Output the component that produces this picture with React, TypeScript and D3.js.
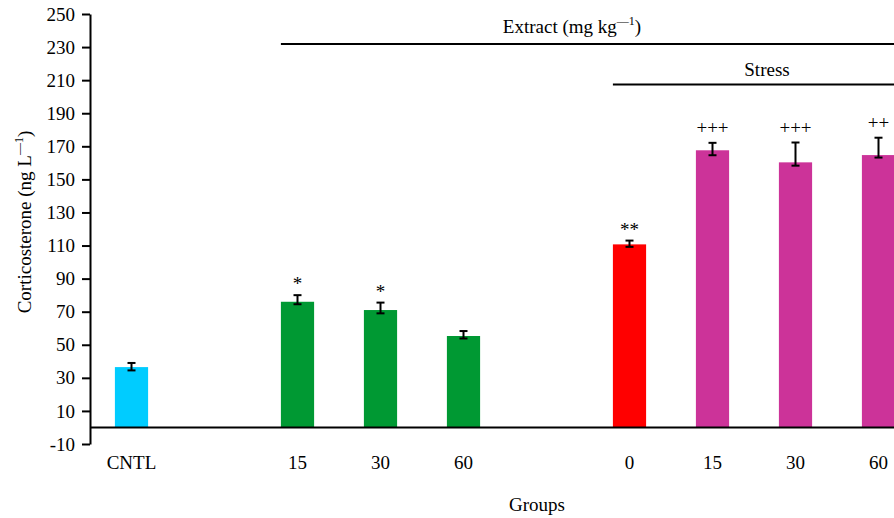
import * as d3 from "d3";
import { useRef, useEffect } from "react";

const slots = ["CNTL", "gap1", "E15", "E30", "E60", "gap2", "S0", "S15", "S30", "S60"];
const groups = ["CNTL", "E15", "E30", "E60", "S0", "S15", "S30", "S60"];
const groupLabels = ["CNTL", "15", "30", "60", "0", "15", "30", "60"];
const means = [36.5, 76, 71, 55.3, 110.7, 167.6, 160.3, 164.7];
const errUp = [2.5, 4, 4.5, 3, 2.3, 4.5, 12, 10.5];
const errDown = [2, 1.5, 2, 1.5, 1.5, 3, 2, 1.5];
const marks = ["", "*", "*", "", "**", "+++", "+++", "++"];
const colors = ["#00ccff", "#009933", "#009933", "#009933", "#ff0000", "#cc3399", "#cc3399", "#cc3399"];
const yTicks = d3.range(-10, 251, 20);

export default function App() {
    const width = 894;
    const height = 518;
    const marginLeft = 90;
    const gy = useRef<SVGGElement>(null);
    const x = d3.scaleBand(slots, [marginLeft, 920]).paddingInner(0.6).paddingOuter(0.3);
    const y = d3.scaleLinear([-10, 250], [444, 14]);
    const font = "Liberation Serif";
    const cx = (g: string) => (x(g) ?? 0) + x.bandwidth() / 2;

    useEffect(() => {
        if (gy.current) {
            const g = d3.select(gy.current);
            g.selectAll("*").remove();
            g.call(d3.axisLeft(y).tickValues(yTicks).tickFormat(d => String(d)).tickSize(8).tickSizeOuter(0).tickPadding(7));
            g.attr("font-family", null).attr("font-size", null);
            g.select(".domain").attr("stroke-width", 2);
            g.selectAll(".tick line").attr("stroke-width", 2);
            g.selectAll(".tick text").attr("font-size", 19).attr("fill", "#000");
        }
    }, [gy, y]);

    return (
        <div>
            <svg width={width} height={height} style={{ position: "absolute", left: 0, top: 0, fontFamily: font }}>
                {groups.map((g, i) => (
                    <rect key={g} x={x(g)} y={y(means[i])} width={x.bandwidth()}
                        height={y(0) - y(means[i])} fill={colors[i]} />
                ))}
                <line x1={marginLeft} x2={width} y1={y(0)} y2={y(0)} stroke="#000" strokeWidth={2} />
                <g stroke="#000" strokeWidth={2}>
                    {groups.map((g, i) => (
                        <g key={g}>
                            <line x1={cx(g)} x2={cx(g)} y1={y(means[i] + errUp[i])} y2={y(means[i] - errDown[i])} />
                            <line x1={cx(g) - 4} x2={cx(g) + 4} y1={y(means[i] + errUp[i])} y2={y(means[i] + errUp[i])} />
                            <line x1={cx(g) - 4} x2={cx(g) + 4} y1={y(means[i] - errDown[i])} y2={y(means[i] - errDown[i])} />
                        </g>
                    ))}
                </g>
                {groups.map((g, i) => (
                    <text key={g} x={cx(g)} y={y(means[i] + errUp[i]) - (marks[i].startsWith("+") ? 9 : 5)}
                        textAnchor="middle" fontSize={19}>{marks[i]}</text>
                ))}
                <g ref={gy} transform={`translate(${marginLeft},0)`} />
                {groups.map((g, i) => (
                    <text key={g} x={cx(g)} y={469} textAnchor="middle" fontSize={19}>{groupLabels[i]}</text>
                ))}
                <text x={537} y={511} textAnchor="middle" fontSize={19}>Groups</text>
                <text transform={`translate(31,222) rotate(-90)`} textAnchor="middle" fontSize={19}>
                    Corticosterone (ng L<tspan dy={-8} fontSize={12}>—1</tspan><tspan dy={8}>)</tspan>
                </text>
                <line x1={x("E15")} x2={width} y1={44} y2={44} stroke="#000" strokeWidth={2} />
                <text x={572} y={33} textAnchor="middle" fontSize={19}>
                    Extract (mg kg<tspan dy={-8} fontSize={12}>—1</tspan><tspan dy={8}>)</tspan>
                </text>
                <line x1={x("S0")} x2={width} y1={84.5} y2={84.5} stroke="#000" strokeWidth={2} />
                <text x={767} y={76} textAnchor="middle" fontSize={19}>Stress</text>
            </svg>
        </div>
    );
}
